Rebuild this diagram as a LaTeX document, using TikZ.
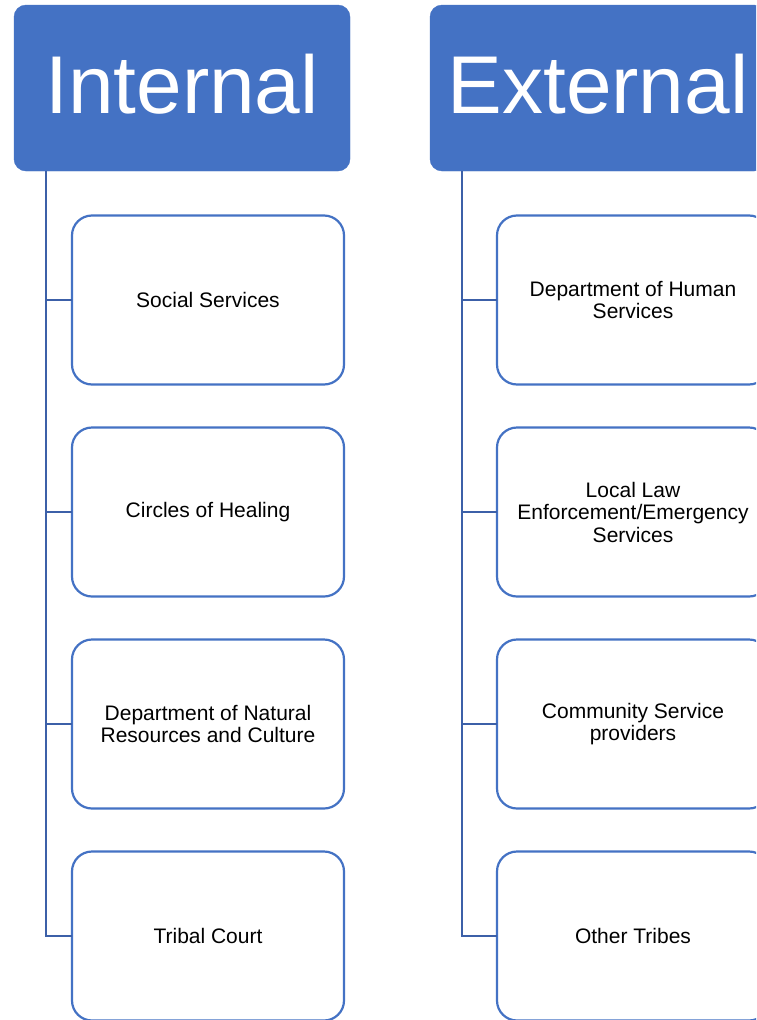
\documentclass[tikz,border=0pt]{standalone}
\usepackage{fontspec}
\setmainfont{Liberation Sans}
\usetikzlibrary{positioning}
\definecolor{hdrblue}{RGB}{68,114,196}
\definecolor{linkblue}{RGB}{60,96,168}

\begin{document}
\begin{tikzpicture}[x=1pt,y=1pt]
	\tikzset{header/.style={draw=hdrblue,fill=hdrblue,rounded corners=12pt,minimum width=336pt,minimum height=166pt,text=white,text depth=8pt,font=\fontsize{82}{90}\selectfont}}
	\tikzset{item/.style={draw=hdrblue,line width=2.2pt,outer sep=0pt,fill=white,rounded corners=20pt,minimum width=272pt,minimum height=169pt,align=center,font=\fontsize{21}{22.5}\selectfont}}
	\tikzset{link/.style={draw=linkblue,line width=2.2pt}}
	\clip (0,0) rectangle (756,-1020);
	\fill[white] (0,0) rectangle (756,-1020);
	% internal
	\node[header] (int) at (182,-88) {Internal};
	\node[item] (i1) at (208,-300) {Social Services};
	\node[item,below=43pt of i1] (i2) {Circles of Healing};
	\node[item,below=43pt of i2] (i3) {Department of Natural\\Resources and Culture};
	\node[item,below=43pt of i3] (i4) {Tribal Court};
	\coordinate (ispine) at ([xshift=32pt]int.south west);
	\foreach \k in {1,...,4} \draw[link] (ispine) |- (i\k.west);
	% external
	\node[header] (ext) at (598,-88) {External};
	\node[item] (e1) at (633,-300) {Department of Human\\Services};
	\node[item,below=43pt of e1] (e2) {Local Law\\Enforcement/Emergency\\Services};
	\node[item,below=43pt of e2] (e3) {Community Service\\providers};
	\node[item,below=43pt of e3] (e4) {Other Tribes};
	\coordinate (espine) at ([xshift=32pt]ext.south west);
	\foreach \k in {1,...,4} \draw[link] (espine) |- (e\k.west);
\end{tikzpicture}
\end{document}
